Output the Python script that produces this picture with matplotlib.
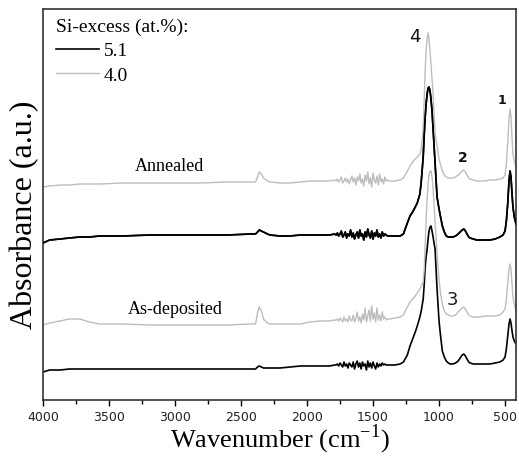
import matplotlib
matplotlib.use('Agg')
import matplotlib.pyplot as plt
from matplotlib.ticker import MultipleLocator

plt.rcParams['mathtext.fontset'] = 'custom'
plt.rcParams['mathtext.rm'] = 'Liberation Serif'

# wavenumber grid (cm-1), shared by the four spectra
wavenumber = [4000, 3950, 3870, 3800, 3720, 3650, 3570, 3400, 3190, 3000, 2810, 2600,
              2430, 2390, 2375, 2362, 2345, 2330, 2300, 2280, 2205, 2130, 2050, 1980,
              1900, 1830, 1790,
              1780, 1770, 1760, 1750, 1740, 1730, 1720, 1710, 1700, 1690,
              1680, 1670, 1660, 1650, 1640, 1630, 1620, 1610, 1600, 1590,
              1580, 1570, 1560, 1550, 1540, 1530, 1520, 1510, 1500, 1490,
              1480, 1470, 1460, 1450, 1440, 1430, 1420, 1410, 1400, 1390, 1380,
              1370, 1335, 1295, 1270, 1240, 1220, 1200, 1180, 1165, 1145, 1135, 1120,
              1112, 1105, 1098, 1090, 1083, 1076, 1068, 1061, 1053, 1045, 1038, 1030,
              1015, 1000, 990, 975, 960, 945, 930, 915, 895, 875, 855, 840, 825, 812,
              800, 788, 775, 765, 740, 715, 690, 650, 615, 575, 540, 515, 500, 490,
              480, 470, 462, 455, 447, 440, 430, 417]

# absorbance (a.u., offset spectra)
annealed_40 = [213, 214, 215, 215, 216, 216, 216, 217, 217, 217, 217, 218,
               218, 218, 223, 228, 226, 222, 219, 218, 217, 217, 218, 219,
               219, 219, 220,
               219, 221, 218, 220, 223, 217, 219, 222, 218, 221,
               216, 220, 224, 218, 222, 215, 223, 219, 226, 217,
               221, 214, 225, 219, 228, 216, 222, 213, 227, 220,
               217, 224, 215, 226, 218, 221, 216, 223, 219, 220, 219,
               219, 219, 220, 222, 229, 234, 238, 241, 243, 246, 251, 271,
               301, 329, 349, 361, 367, 361, 349, 336, 321, 306, 286, 266,
               254, 241, 236, 229, 225, 223, 222, 222, 222, 223, 225, 227, 229, 230,
               228, 225, 222, 221, 220, 219, 219, 219, 220, 220, 221, 222, 225, 236,
               256, 281, 291, 283, 261, 246, 239, 233]

annealed_51 = [157, 160, 161, 162, 163, 163, 164, 164, 165, 165, 165, 165,
               166, 166, 168, 170, 169, 168, 166, 165, 164, 164, 165, 165,
               165, 165, 166,
               165, 167, 164, 166, 169, 163, 165, 168, 162, 166,
               164, 170, 163, 167, 161, 165, 168, 162, 170, 164,
               166, 160, 168, 163, 171, 165, 162, 169, 161, 167,
               164, 170, 163, 166, 162, 168, 164, 166, 165, 164, 164,
               164, 164, 164, 166, 177, 184, 188, 193, 197, 206, 218, 243,
               266, 283, 296, 306, 312, 313, 309, 301, 289, 271, 256, 236,
               203, 191, 184, 174, 168, 164, 163, 163, 163, 164, 166, 168, 170, 171,
               169, 166, 163, 162, 161, 160, 160, 160, 160, 161, 163, 165, 169, 179,
               196, 219, 229, 223, 206, 193, 183, 176]

deposited_40 = [75, 77, 79, 81, 81, 78, 76, 76, 75, 75, 75, 75,
                76, 76, 87, 93, 89, 81, 77, 76, 76, 76, 76, 78,
                79, 79, 80,
                80, 81, 79, 82, 80, 78, 83, 79, 81, 78,
                84, 80, 79, 85, 78, 82, 88, 79, 83, 77,
                86, 80, 92, 78, 84, 90, 79, 94, 81, 87,
                78, 92, 80, 85, 79, 88, 81, 83, 80, 81, 81,
                81, 82, 83, 85, 93, 98, 101, 104, 107, 111, 114, 118,
                131, 156, 179, 201, 216, 225, 229, 229, 223, 211, 196, 179,
                146, 121, 108, 96, 89, 86, 85, 84, 84, 85, 88, 90, 92, 93,
                91, 88, 85, 84, 83, 83, 83, 84, 84, 84, 85, 88, 91, 101,
                116, 131, 136, 131, 116, 103, 96, 89]

deposited_51 = [28, 30, 30, 31, 31, 31, 31, 31, 31, 31, 31, 31,
                31, 31, 33, 34, 33, 32, 32, 32, 32, 33, 34, 34,
                34, 34, 35,
                35, 36, 34, 37, 35, 33, 38, 34, 36, 32,
                37, 35, 33, 38, 31, 36, 39, 33, 37, 31,
                38, 34, 36, 30, 39, 33, 37, 32, 38, 34,
                31, 37, 33, 36, 34, 37, 35, 36, 35, 35, 35,
                35, 35, 36, 38, 45, 54, 61, 68, 74, 83, 89, 101,
                116, 133, 143, 151, 161, 169, 173, 174, 169, 163, 157, 151,
                111, 79, 66, 49, 43, 39, 37, 36, 36, 37, 39, 42, 45, 46,
                44, 41, 38, 37, 36, 36, 36, 36, 36, 37, 38, 40, 43, 51,
                63, 76, 81, 77, 69, 63, 59, 56]

legend_title = 'Si-excess (at.%):'
series_labels = ['5.1', '4.0']

fig = plt.figure(figsize=(5.19, 4.60), dpi=100)
ax = fig.add_axes([43 / 519, 59 / 460, 473 / 519, 391 / 460])

black = '#000000'
grey = '#bdbdbd'

l1, = ax.plot(wavenumber, annealed_51, color=black, lw=1.2, label=series_labels[0])
l2, = ax.plot(wavenumber, annealed_40, color=grey, lw=1.0, label=series_labels[1])
ax.plot(wavenumber, deposited_51, color=black, lw=1.2)
ax.plot(wavenumber, deposited_40, color=grey, lw=1.0)
# annealed black goes over the as-deposited grey peak
ax.plot(wavenumber, annealed_51, color=black, lw=1.2, zorder=3)

ax.set_xlim(4000, 417)
ax.set_ylim(0, 391)
ax.set_yticks([])
ax.xaxis.set_major_locator(MultipleLocator(500))
ax.xaxis.set_minor_locator(MultipleLocator(250))
ax.tick_params(axis='x', which='major', direction='out', length=4, width=1, pad=3,
               labelsize=9, labelcolor='#222222')
ax.tick_params(axis='x', which='minor', direction='out', length=3, width=1)
for lab in ax.get_xticklabels():
    lab.set_family('DejaVu Sans')
for sp in ax.spines.values():
    sp.set_linewidth(1.2)
    sp.set_color('#333333')

serif = 'Liberation Serif'
fig.text(280 / 519, 1 - 439 / 460, r'Wavenumber (cm$^{\mathrm{-1}}$)', family=serif,
         fontsize=19, ha='center', va='center')
fig.text(25 / 519, 1 - 215 / 460, 'Absorbance (a.u.)', family=serif, fontsize=23,
         rotation=90, ha='center', va='center')

ax.text(3045, 234, 'Annealed', family=serif, fontsize=13, ha='center', va='center')
ax.text(3000, 91, 'As-deposited', family=serif, fontsize=13, ha='center', va='center')
ax.text(1182, 364, '4', fontsize=13, ha='center', va='center', color='#111111')
ax.text(902, 101, '3', fontsize=13, ha='center', va='center', color='#1a1a2e')
ax.text(818, 243, '2', fontsize=10, ha='center', va='center', color='#111111',
        fontweight='bold')
ax.text(523, 301, '1', fontsize=9, ha='center', va='center', color='#111111',
        fontweight='bold')

leg = ax.legend(handles=[l1, l2], title=legend_title, loc='upper left',
                bbox_to_anchor=(0.009, 1.0), frameon=False, handlelength=2.2,
                handletextpad=0.25, labelspacing=0.35, borderaxespad=0.15,
                borderpad=0.3, prop={'family': serif, 'size': 14}, alignment='left')
leg.get_title().set_family(serif)
leg.get_title().set_fontsize(14)

fig.savefig('out.png', dpi=100)
